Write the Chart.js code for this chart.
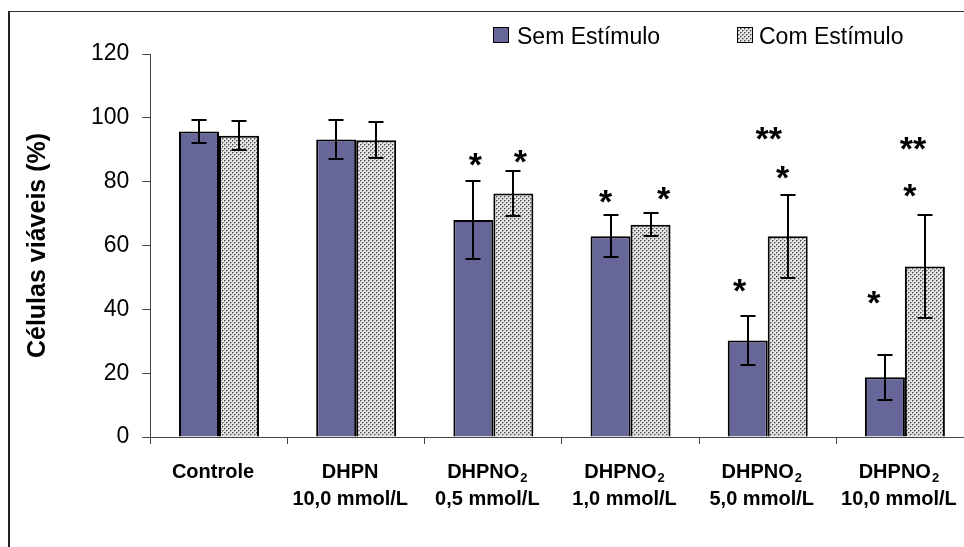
<!DOCTYPE html>
<html>
<head>
<meta charset="utf-8">
<script src="https://cdn.jsdelivr.net/npm/chart.js@4.4.1/dist/chart.umd.min.js"></script>
<style>
  html, body { margin: 0; padding: 0; background: #fff; overflow: hidden; width: 964px; height: 547px; }
  #frame { position: absolute; left: 8px; top: 11px; width: 1100px; height: 700px;
           border-left: 2px solid #222; border-top: 1px solid #333; }
  #wrap { position: absolute; left: 0; top: 0; width: 1000px; height: 547px; }
</style>
</head>
<body>
<div id="frame"></div>
<div id="wrap"><canvas id="cv" width="1000" height="547"></canvas></div>
<script>
// ---------- Données ----------
const categorias  = [['Controle'], ['DHPN', '10,0 mmol/L'], ['DHPNO₂', '0,5 mmol/L'],
                     ['DHPNO₂', '1,0 mmol/L'], ['DHPNO₂', '5,0 mmol/L'], ['DHPNO₂', '10,0 mmol/L']];
const series      = ['Sem Estímulo', 'Com Estímulo'];
const semEstimulo = [95.7, 93.2, 68.0, 62.9, 30.2, 18.7];
const comEstimulo = [94.4, 93.0, 76.3, 66.5, 62.9, 53.4];
const erroSem     = [3.7, 6.0, 12.3, 6.5, 7.6, 7.0];
const erroCom     = [4.6, 5.6, 7.0, 3.6, 13.0, 16.0];
const yTicks      = [0, 20, 40, 60, 80, 100, 120];

// asteriscos de significância : catégorie, série (0 = Sem, 1 = Com), hauteur (unités de l'axe), texte
const sigCat   = [2, 2, 3, 3, 4, 4, 4, 5, 5, 5];
const sigSerie = [0, 1, 0, 1, 0, 1, 1, 0, 1, 1];
const sigValor = [88.0, 88.7, 76.4, 77.4, 48.5, 83.7, 96.2, 44.7, 78.1, 92.8];
const sigTexto = ['*', '*', '*', '*', '*', '*', '**', '*', '*', '**'];

// ---------- Styles ----------
const FONT = '"Liberation Sans", Arial, sans-serif';
const SIG_NUDGE = [2, 7, -5, 13, -8, -5, -19, -11, -15, -12]; // petits décalages horizontaux (px)

function pontilhado() {
  const c = document.createElement('canvas');
  c.width = 4; c.height = 4;
  const g = c.getContext('2d');
  g.fillStyle = '#e4e4e4'; g.fillRect(0, 0, 4, 4);
  g.fillStyle = '#4a4a4a';
  g.fillRect(0, 0, 1, 1); g.fillRect(2, 2, 1, 1);
  g.fillStyle = '#a0a0a0';
  g.fillRect(1, 0, 1, 1); g.fillRect(3, 2, 1, 1);
  g.fillRect(0, 1, 1, 1); g.fillRect(2, 3, 1, 1);
  return g.createPattern(c, 'repeat');
}
const PADRAO = pontilhado();

// ---------- Plugins ----------
const barrasErro = {
  id: 'barrasErro',
  afterDatasetsDraw(chart) {
    const { ctx, scales: { y } } = chart;
    const erros = [erroSem, erroCom];
    ctx.save();
    ctx.strokeStyle = '#000'; ctx.lineWidth = 2;
    chart.data.datasets.forEach((ds, d) => {
      chart.getDatasetMeta(d).data.forEach((bar, i) => {
        const v = ds.data[i], e = erros[d][i];
        const yt = Math.round(y.getPixelForValue(v + e)), yb = Math.round(y.getPixelForValue(v - e));
        const x = Math.round(bar.x);
        ctx.beginPath();
        ctx.moveTo(x, yt); ctx.lineTo(x, yb);
        ctx.moveTo(x - 7.5, yt); ctx.lineTo(x + 7.5, yt);
        ctx.moveTo(x - 7.5, yb); ctx.lineTo(x + 7.5, yb);
        ctx.stroke();
      });
    });
    // asteriscos
    ctx.fillStyle = '#000';
    ctx.font = 'bold 34px ' + FONT;
    ctx.textAlign = 'center'; ctx.textBaseline = 'alphabetic';
    sigTexto.forEach((t, k) => {
      const bar = chart.getDatasetMeta(sigSerie[k]).data[sigCat[k]];
      const yc = y.getPixelForValue(sigValor[k]);
      ctx.fillText(t, bar.x + SIG_NUDGE[k], yc + 0.575 * 34);
    });
    ctx.restore();
  }
};

const rotulosX = {
  id: 'rotulosX',
  afterDraw(chart) {
    const { ctx, chartArea, scales: { x } } = chart;
    ctx.save();
    ctx.fillStyle = '#000';
    ctx.textBaseline = 'middle';
    ctx.textAlign = 'left';
    const linhas = [chartArea.bottom + 35, chartArea.bottom + 62];
    categorias.forEach((lab, i) => {
      const cx = x.getPixelForValue(i) - 6;
      lab.forEach((txt, j) => {
        const partes = txt.split('₂');
        ctx.font = 'bold 20px ' + FONT;
        const w1 = ctx.measureText(partes[0]).width;
        let w2 = 0;
        if (partes.length > 1) { ctx.font = 'bold 13px ' + FONT; w2 = ctx.measureText('2').width + 1; }
        const x0 = cx - (w1 + w2) / 2;
        ctx.font = 'bold 20px ' + FONT;
        ctx.fillText(partes[0], x0, linhas[j]);
        if (partes.length > 1) {
          ctx.font = 'bold 13px ' + FONT;
          ctx.fillText('2', x0 + w1 + 1, linhas[j] + 6);
        }
      });
    });
    ctx.restore();
  }
};

const legenda = {
  id: 'legenda',
  afterDraw(chart) {
    const { ctx } = chart;
    const pos = [[493, 517], [737, 759]];
    ctx.save();
    ctx.font = '23px ' + FONT;
    ctx.textBaseline = 'alphabetic'; ctx.textAlign = 'left';
    chart.data.datasets.forEach((ds, d) => {
      const [bx, tx] = pos[d];
      ctx.fillStyle = ds.backgroundColor;
      ctx.fillRect(bx, 27, 16, 16);
      ctx.strokeStyle = '#000'; ctx.lineWidth = 1;
      ctx.strokeRect(bx + 0.5, 27.5, 15, 15);
      ctx.fillStyle = '#000';
      ctx.fillText(ds.label, tx, 43.5);
    });
    ctx.restore();
  }
};

// ---------- Graphique ----------
new Chart(document.getElementById('cv').getContext('2d'), {
  type: 'bar',
  data: {
    labels: categorias.map(l => l.join(' ')),
    datasets: [
      { label: series[0], data: semEstimulo, backgroundColor: '#666699', borderColor: '#000', borderWidth: 2,
        categoryPercentage: 0.583, barPercentage: 1.0 },
      { label: series[1], data: comEstimulo, backgroundColor: PADRAO, borderColor: '#000', borderWidth: 2,
        categoryPercentage: 0.583, barPercentage: 1.0 }
    ]
  },
  options: {
    responsive: false,
    animation: false,
    layout: { padding: { left: 0, right: 26.5, top: 54, bottom: 0 } },
    plugins: { legend: { display: false }, tooltip: { enabled: false } },
    scales: {
      x: {
        offset: true,
        grid: { offset: true, drawOnChartArea: false, drawTicks: true, tickLength: 7, color: '#444' },
        border: { color: '#444', width: 1 },
        ticks: { display: false },
        afterFit: s => { s.height = 110; }
      },
      y: {
        min: yTicks[0], max: yTicks[yTicks.length - 1],
        afterBuildTicks: s => { s.ticks = yTicks.map(v => ({ value: v })); },
        ticks: { color: '#000', font: { family: FONT, size: 23 }, padding: 13 },
        grid: { drawOnChartArea: false, drawTicks: true, tickLength: 8, color: '#444' },
        border: { color: '#444', width: 1 },
        title: { display: true, text: 'Células viáveis (%)', color: '#000',
                 font: { family: FONT, size: 25, weight: 'bold' }, padding: { top: 23, bottom: 0 } },
        afterFit: s => { s.width = 150.4; }
      }
    }
  },
  plugins: [barrasErro, rotulosX, legenda]
});
</script>
</body>
</html>
